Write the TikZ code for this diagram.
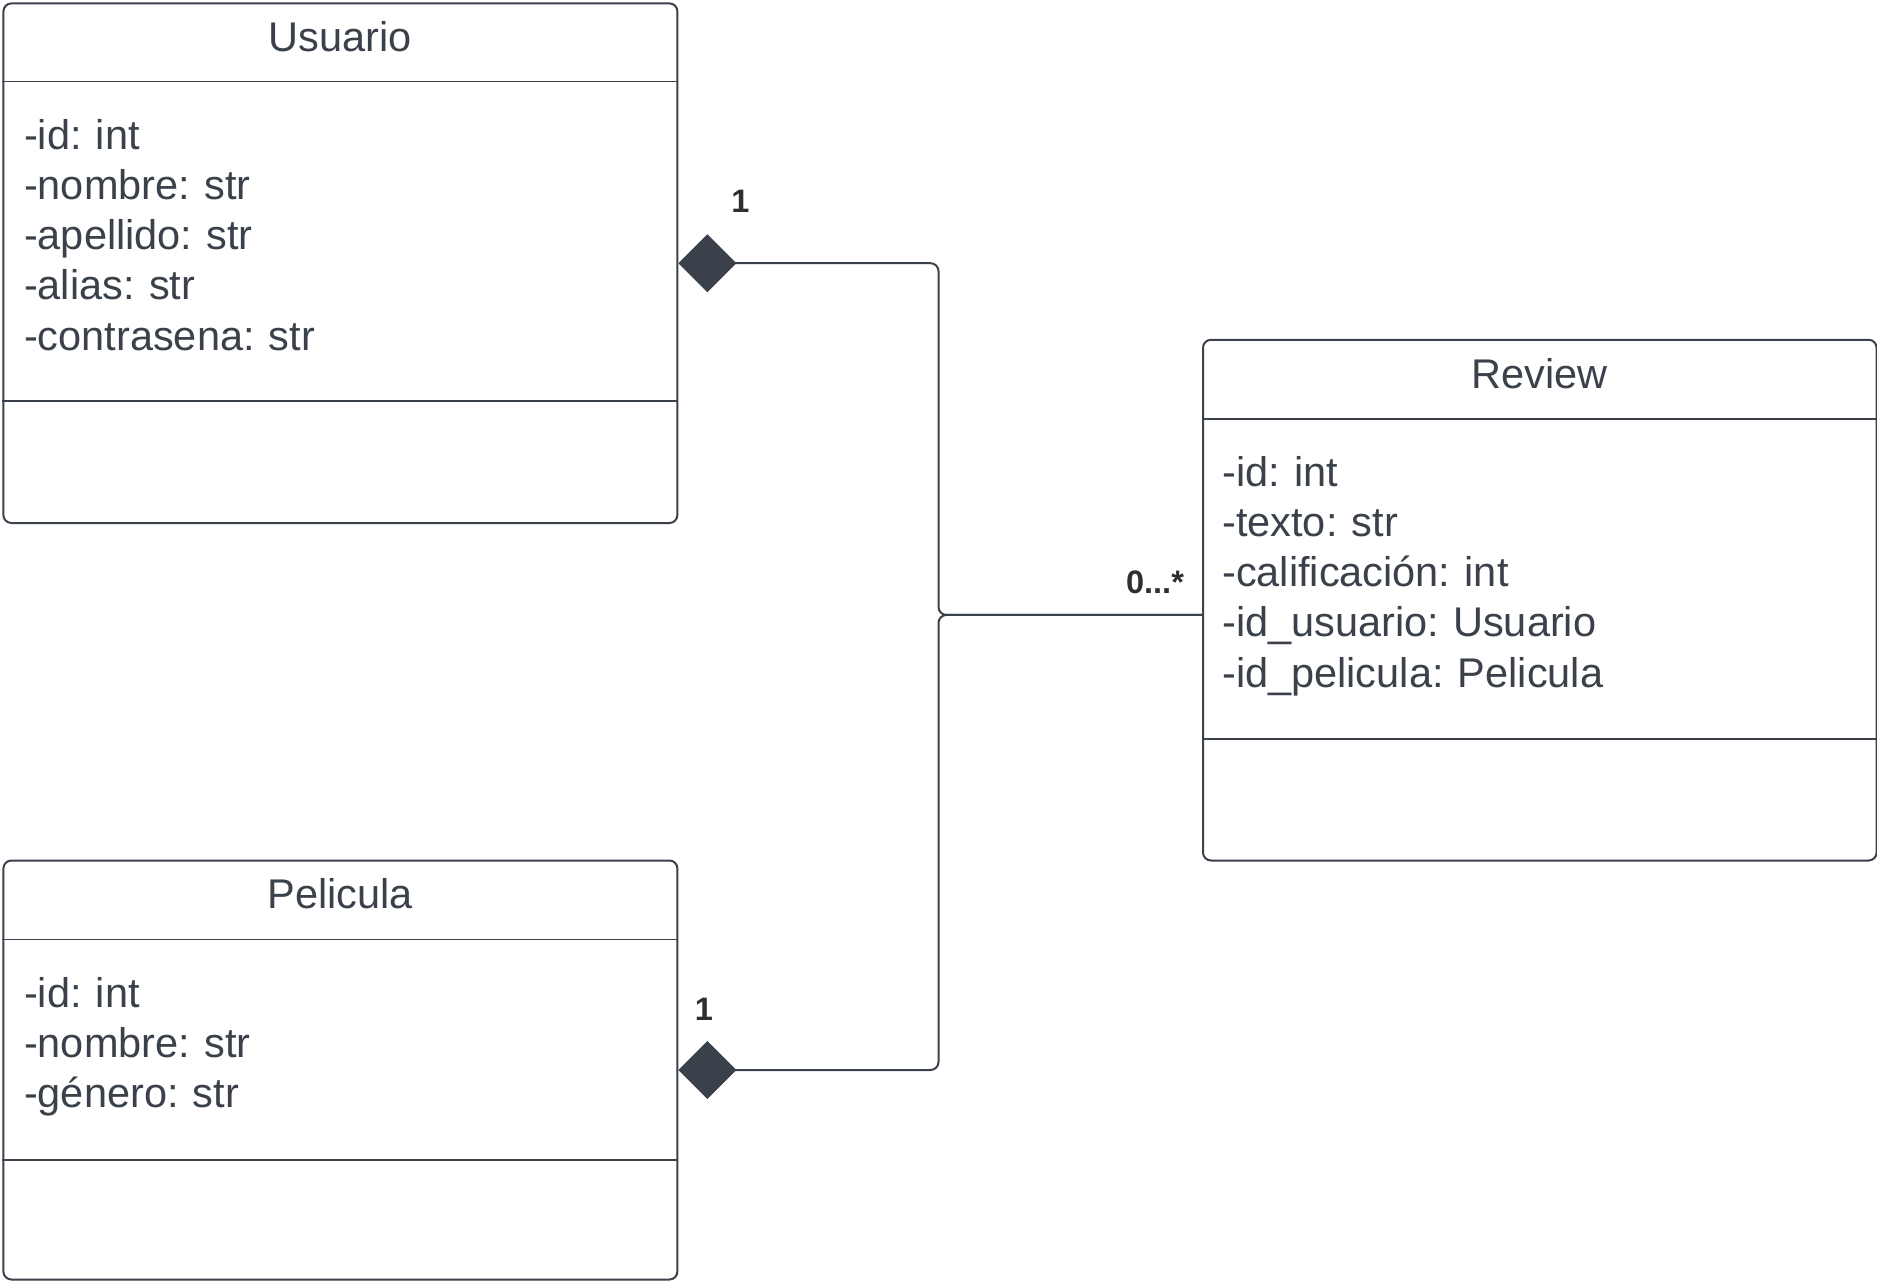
\documentclass[tikz,border=0pt]{standalone}
\usepackage{fontspec}
\setmainfont{Liberation Sans}
\usetikzlibrary{arrows.meta,calc}
\definecolor{ink}{HTML}{3A414A}
\definecolor{lbl}{HTML}{2E2E33}
\newcommand\myattrfont{\fontsize{41.5}{50}\selectfont\spaceskip=10.4pt\relax}
\begin{document}
\begin{tikzpicture}[x=1pt,y=-1pt,
  cls/.style={draw=ink, line width=2pt, rounded corners=8pt, inner sep=0pt,
    minimum width=674pt, anchor=north west},
  divider/.style={draw=ink, line width=1.8pt},
  title/.style={text=ink, inner sep=0pt, font=\fontsize{41.5}{50}\selectfont},
  attr/.style={text=ink, inner sep=0pt, anchor=base west, font=\myattrfont},
  mult/.style={text=lbl, inner sep=0pt, font=\fontsize{32.5}{38}\selectfont\bfseries},
  conn/.style={draw=ink, line width=2pt, rounded corners=8pt,
    -{Diamond[length=58pt,width=58pt,fill=ink,line width=0pt]}}
]
\useasboundingbox (0,0) rectangle (1877,1281);

% classes
\node[cls, minimum height=519.6pt] (usu) at (2.4,2.4) {};
\node[cls, minimum height=419pt] (pel) at (2.4,859.5) {};
\node[cls, minimum height=520.7pt, minimum width=673.6pt] (rev) at (1202,338.8) {};

% dividers
\draw[divider] ($(usu.north west)+(0,79.2)$) -- ($(usu.north east)+(0,79.2)$);
\draw[divider] ($(usu.north west)+(0,398.6)$) -- ($(usu.north east)+(0,398.6)$);
\draw[divider] ($(pel.north west)+(0,80)$) -- ($(pel.north east)+(0,80)$);
\draw[divider] ($(pel.north west)+(0,300.5)$) -- ($(pel.north east)+(0,300.5)$);
\draw[divider] ($(rev.north west)+(0,80)$) -- ($(rev.north east)+(0,80)$);
\draw[divider] ($(rev.north west)+(0,399.8)$) -- ($(rev.north east)+(0,399.8)$);

% titles
\node[title] (usut) at ($(usu.north)+(0,34)$) {Usuario};
\node[title] (pelt) at ($(pel.north)+(0,34.5)$) {Pelicula};
\node[title] (revt) at ($(rev.north)+(0,34.5)$) {Review};

% attributes
\node[attr] (u1) at ($(usu.north west)+(21.5,147)$) {-id: int};
\node[attr] (u2) at ($(usu.north west)+(21.5,197.2)$) {-nombre: str};
\node[attr] (u3) at ($(usu.north west)+(21.5,247.4)$) {-apellido: str};
\node[attr] (u4) at ($(usu.north west)+(21.5,297.6)$) {-alias: str};
\node[attr] (u5) at ($(usu.north west)+(21.5,347.8)$) {-contrasena: str};

\node[attr] (p1) at ($(pel.north west)+(21.5,147.5)$) {-id: int};
\node[attr] (p2) at ($(pel.north west)+(21.5,197.7)$) {-nombre: str};
\node[attr] (p3) at ($(pel.north west)+(21.5,247.9)$) {-género: str};

\node[attr] (r1) at ($(rev.north west)+(20,147.5)$) {-id: int};
\node[attr] (r2) at ($(rev.north west)+(20,197.7)$) {-texto: str};
\node[attr] (r3) at ($(rev.north west)+(20,247.9)$) {-calificación: int};
\node[attr] (r4) at ($(rev.north west)+(20,298.1)$) {-id\_usuario: Usuario};
\node[attr] (r5) at ($(rev.north west)+(20,348.3)$) {-id\_pelicula: Pelicula};

% connectors
\coordinate (jr) at ($(rev.west)+(0,14.8)$);
\draw[conn] (jr) -- ++(-263.5,0) |- (usu.east);
\draw[conn] (jr) -- ++(-263.5,0) |- (pel.east);

% multiplicities
\node[mult] (m1) at (740.5,201.7) {1};
\node[mult] (m2) at (704,1009.5) {1};
\node[mult] (m3) at (1155,582) {0...*};
\end{tikzpicture}
\end{document}
